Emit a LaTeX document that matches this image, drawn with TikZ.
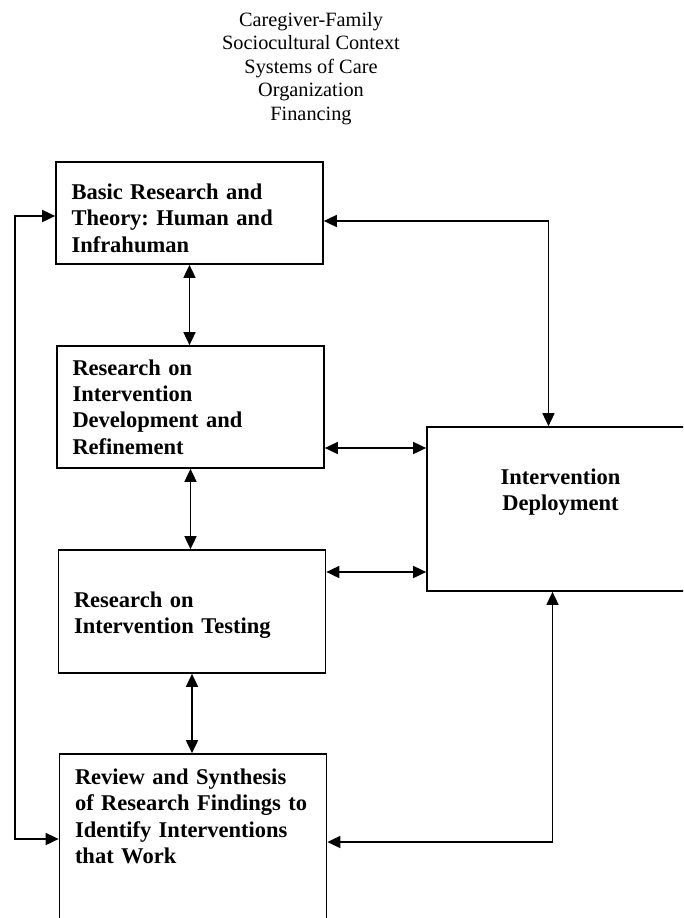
\documentclass[tikz,border=0pt]{standalone}
\usepackage{fontspec}
\setmainfont{Liberation Serif}
\usetikzlibrary{arrows.meta, calc}

\begin{document}
\frenchspacing
\begin{tikzpicture}[x=1pt, y=-1pt,
    stage/.style={draw, rectangle, line width=1.7pt, inner xsep=15.5pt, inner ysep=3pt,
        text width=236pt, align=left, font=\bfseries\fontsize{22.5}{26.4}\selectfont},
    link/.style={line width=1.7pt,
        {Triangle[length=13pt,width=12pt]}-{Triangle[length=13pt,width=12pt]}}]

\clip (0,0) rectangle (683,918);

% Context listed above the boxes
\node[align=center, font=\fontsize{20.3}{23.5}\selectfont] (context) at (311,68.5)
    {Caregiver-Family\\Sociocultural Context\\Systems of Care\\Organization\\Financing};

% Research stages down the left side
\node[stage, minimum height=102pt, text height=26pt] (basic) at (189.5,213)
    {Basic Research and\\Theory: Human and\\Infrahuman};
\node[stage, minimum height=122pt] (develop) at (190.5,407)
    {Research on\\Intervention\\Development and\\Refinement};
\node[stage, minimum height=123pt, text height=23pt] (testing) at (192,611.5)
    {Research on\\Intervention Testing};
\node[stage, minimum height=176pt, text depth=131pt] (review) at (193,842)
    {Review and Synthesis\\of Research Findings to\\Identify Interventions\\that Work};

% Deployment box on the right
\node[stage, align=center, minimum height=164pt, text depth=65pt] (deploy) at (560.5,509)
    {Intervention\\Deployment};

% Two-way links between neighbouring stages
\draw[link] (basic.south) -- (basic.south |- develop.north);
\draw[link] (develop.south) -- (develop.south |- testing.north);
\draw[link] (testing.south) -- (testing.south |- review.north);

% Links to deployment
\draw[link] ([yshift=-41pt]develop.east) -- ([yshift=-41pt]develop.east -| deploy.west);
\draw[link] ([yshift=39.5pt]testing.east) -- ([yshift=39.5pt]testing.east -| deploy.west);
\draw[link] ([yshift=-8pt]basic.east) -| ([xshift=-12pt]deploy.north);
\draw[link] (review.east) -| ([xshift=-8pt]deploy.south);

% Feedback loop on the left
\draw[link] ([yshift=-3pt]basic.west) -- ++(-40,0) |- ([yshift=3pt]review.west);

\end{tikzpicture}
\end{document}
